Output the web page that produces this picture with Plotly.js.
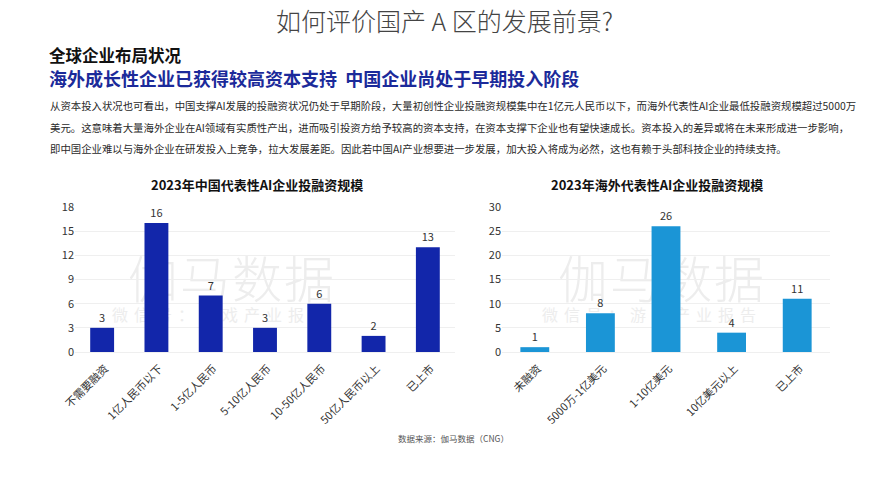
<!DOCTYPE html>
<html><head><meta charset="utf-8">
<script src="https://cdn.plot.ly/plotly-3.0.1.min.js"></script>
<style>
html,body{margin:0;padding:0;background:#fff;}
#wrap{position:relative;width:889px;height:500px;overflow:hidden;}
#chart{position:absolute;left:0;top:0;width:889px;height:500px;z-index:2;}
.wm{position:absolute;z-index:1;font-family:"Noto Sans CJK SC",sans-serif;color:#ededed;white-space:nowrap;transform:translate(-50%,-50%);}
.wm1{font-size:50px;font-weight:300;letter-spacing:2px;}
.wm2{font-size:16px;letter-spacing:6px;}
</style>
</head><body>
<div id="wrap">
<div class="wm wm1" style="left:232px;top:276px;">伽马数据</div>
<div class="wm wm2" style="left:222px;top:314px;">微信号：游戏产业报告</div>
<div class="wm wm1" style="left:662px;top:276px;">伽马数据</div>
<div class="wm wm2" style="left:652px;top:314px;">微信号：游戏产业报告</div>
<div id="chart"></div>
</div>
<script>
const cnCategories = ["不需要融资","1亿人民币以下","1-5亿人民币","5-10亿人民币","10-50亿人民币","50亿人民币以上","已上市"];
const cnValues = [3,16,7,3,6,2,13];
const osCategories = ["未融资","5000万-1亿美元","1-10亿美元","10亿美元以上","已上市"];
const osValues = [1,8,26,4,11];
const cnTicks = [0,3,6,9,12,15,18];
const osTicks = [0,5,10,15,20,25,30];

const FONT = '"Noto Sans CJK SC", "Noto Sans", sans-serif';
const W = 889, H = 500;
const px = x => x / W;
const py = y => 1 - y / H;

const traces = [
  {type:'bar', x:cnCategories, y:cnValues, xaxis:'x', yaxis:'y',
   marker:{color:'#1226aa'}, text:cnValues.map(String), textposition:'outside',
   textfont:{family:FONT,size:11,color:'#333'}, cliponaxis:false, hoverinfo:'none'},
  {type:'bar', x:osCategories, y:osValues, xaxis:'x2', yaxis:'y2',
   marker:{color:'#1b95d6'}, text:osValues.map(String), textposition:'outside',
   textfont:{family:FONT,size:11,color:'#333'}, cliponaxis:false, hoverinfo:'none'}
];

const axisY = (ticks, anchor) => ({
  domain:[py(352), py(207)], range:[0, ticks[ticks.length-1]], tickvals:ticks,
  showgrid:true, gridcolor:'#efefef', gridwidth:1, zeroline:true, zerolinecolor:'#efefef',
  showline:false, ticks:'', ticklen:0, tickfont:{family:FONT,size:11,color:'#333'},
  anchor:anchor, fixedrange:true
});
const axisX = (dom, anchor) => ({
  domain:dom, anchor:anchor, tickangle:-45, showgrid:false, showline:false, zeroline:false,
  ticks:'', tickfont:{family:FONT,size:11,color:'#333'}, ticklabelstandoff:7, ticklabelshift:3,
  fixedrange:true
});

const para = [
  "从资本投入状况也可看出，中国支撑AI发展的投融资状况仍处于早期阶段，大量初创性企业投融资规模集中在1亿元人民币以下，而海外代表性AI企业最低投融资规模超过5000万",
  "美元。这意味着大量海外企业在AI领域有实质性产出，进而吸引投资方给予较高的资本支持，在资本支撑下企业也有望快速成长。资本投入的差异或将在未来形成进一步影响，",
  "即中国企业难以与海外企业在研发投入上竞争，拉大发展差距。因此若中国AI产业想要进一步发展，加大投入将成为必然，这也有赖于头部科技企业的持续支持。"
];
const paraY = [106,127,148];

const ann = [
  {text:'如何评价国产 A 区的发展前景?', x:px(444), y:py(20), xanchor:'center', yanchor:'middle',
   font:{family:FONT,size:25,color:'#444',weight:300}},
  {text:'<b>全球企业布局状况</b>', x:px(47), y:py(55), xanchor:'left', yanchor:'middle',
   font:{family:FONT,size:16.5,color:'#111'}},
  {text:'<b>海外成长性企业已获得较高资本支持  中国企业尚处于早期投入阶段</b>', x:px(47), y:py(78), xanchor:'left', yanchor:'middle',
   font:{family:FONT,size:18,color:'#1b2a9a'}},
  {text:'<b>2023年中国代表性AI企业投融资规模</b>', x:px(257), y:py(184), xanchor:'center', yanchor:'middle',
   font:{family:FONT,size:13,color:'#111'}},
  {text:'<b>2023年海外代表性AI企业投融资规模</b>', x:px(657), y:py(184), xanchor:'center', yanchor:'middle',
   font:{family:FONT,size:13,color:'#111'}},
  {text:'数据来源：伽马数据（CNG）', x:px(453), y:py(438), xanchor:'center', yanchor:'middle',
   font:{family:FONT,size:8.5,color:'#555'}}
];
para.forEach((t,i)=>ann.push({text:t, x:px(48), y:py(paraY[i]), xanchor:'left', yanchor:'middle',
  font:{family:FONT,size:10.4,color:'#2a2a2a'}}));
ann.forEach(a=>{a.xref='paper'; a.yref='paper'; a.showarrow=false;});

const layout = {
  width:W, height:H, margin:{l:0,r:0,t:0,b:0},
  paper_bgcolor:'rgba(0,0,0,0)', plot_bgcolor:'rgba(0,0,0,0)',
  showlegend:false, bargap:0.56,
  font:{family:FONT},
  xaxis:axisX([px(75),px(455)],'y'),
  yaxis:axisY(cnTicks,'x'),
  xaxis2:axisX([px(502),px(830)],'y2'),
  yaxis2:axisY(osTicks,'x2'),
  annotations:ann
};
Plotly.newPlot('chart', traces, layout, {staticPlot:true, displayModeBar:false});
</script>
</body></html>
